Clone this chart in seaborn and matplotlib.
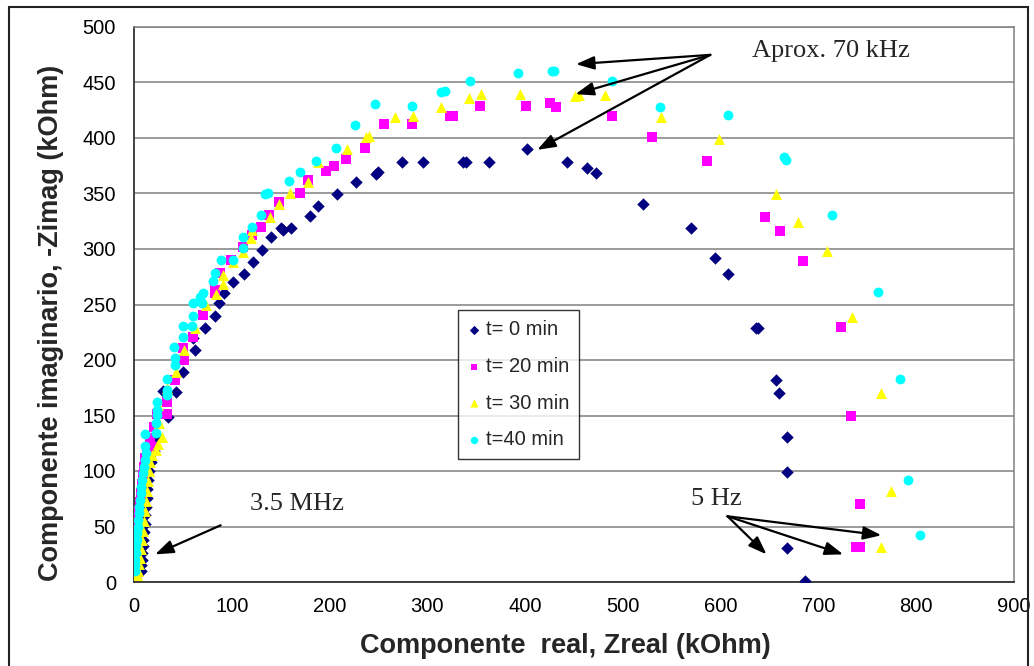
import numpy as np
import pandas as pd
import matplotlib
matplotlib.use("Agg")
import matplotlib.pyplot as plt
from matplotlib.patches import Rectangle
import seaborn as sns

# -------------------- DATA (kOhm) --------------------
labels = ["t= 0 min", "t= 20 min", "t= 30 min", "t=40 min"]

x_t0 = [7, 7.5, 8, 8.5, 9, 9.5, 10, 11, 11.5, 12, 13, 13.5, 14.5, 15.5, 17, 20, 25, 30, 35, 43,
        50, 60.6, 62, 72.5, 82.7, 87, 92, 101, 112, 122, 131, 140.6, 150, 152.5, 160.4, 180, 188.6,
        208, 227, 247, 250, 274, 295.5, 336.4, 340, 363, 402, 443, 463, 472, 521, 570, 594, 608,
        636, 638, 657, 660, 668, 668, 668, 686]
y_t0 = [10, 15, 20, 26, 32, 38, 45, 52, 60, 68, 76, 84, 92, 100, 108, 118, 130, 172, 149, 171,
        189, 219.5, 209, 229, 239.6, 251, 260, 270.5, 277.5, 288.5, 299, 310.5, 319, 317, 319,
        329.8, 338.8, 349.6, 360.7, 367.6, 369.4, 378.5, 378.5, 378.5, 378.5, 378.5, 390, 378.5,
        373.3, 368.3, 340.3, 319, 292.2, 277.5, 229, 229, 181.9, 169.9, 130.2, 99.2, 31, 0.6]

x_t20 = [0.5, 1, 1.5, 2, 0, 2.5, 3, 4, 5, 6, 7, 8, 9, 10, 11, 13, 16, 20.7, 20, 23.2,
         33.4, 33.4, 41.9, 51, 50.4, 60, 70.8, 82.7, 82.7, 87.8, 99, 111, 120.2, 129.4, 137.6,
         147.8, 170.2, 178.4, 196.8, 205, 217.2, 236, 256, 284.6, 323.5, 326, 354, 401, 425.6,
         431.7, 488.6, 529.8, 585.9, 645, 660.5, 684.4, 722.8, 733, 742.2, 738, 742]
y_t20 = [12, 18, 25, 32, 50, 40, 48, 56, 64, 72, 80, 88, 96, 104, 112, 120, 130, 121.7, 140, 151.8,
         151.2, 162.3, 181.9, 200, 210.5, 221, 240.5, 260, 263, 278, 290, 301.5, 312.6, 320, 330.7,
         342.6, 350.8, 362.2, 370.6, 374.8, 381.4, 391.4, 412.4, 412.4, 420, 420, 429, 429, 431.9,
         428.3, 420.2, 401.3, 379.6, 329, 316.5, 289.5, 230, 149.7, 70.7, 31.6, 31.6]

x_t30 = [3, 4, 5, 6, 7, 8, 9, 10, 11, 12, 13, 14, 15, 16, 18, 23, 25, 28.3, 25.8, 24.8,
         34, 42.9, 51, 62.3, 73.5, 83.8, 91.2, 91.2, 100.8, 111.6, 119.8, 121, 139, 147.8, 160,
         178.4, 188.3, 217.8, 237, 240.4, 266.6, 285.3, 314.3, 342.5, 355, 395, 451.5, 455.5,
         481.8, 539, 597.8, 657, 679.5, 708.3, 734.7, 763.7, 774.3, 763.7]
y_t30 = [6, 10, 16, 22, 30, 38, 46, 55, 64, 73, 82, 91, 100, 108, 114, 119, 124, 130.8, 142.8, 159.3,
         174.4, 189.4, 209, 228.5, 249.5, 259.4, 268.4, 276.5, 288.5, 297.6, 310, 317, 329, 340.6,
         350, 360.7, 378.5, 390, 400.7, 401.9, 418.7, 420, 428.3, 436.4, 439.8, 439.8, 438, 438.8,
         438.8, 419.3, 398.9, 349.6, 324.6, 298.5, 239, 169.9, 82, 31.6]

x_t40 = [1, 1, 1.5, 2, 2.5, 3, 3.5, 4, 4.5, 5, 5.5, 6, 7, 7.5, 8, 9, 10, 11, 12, 11.2,
         11.2, 22.5, 22.5, 23.2, 23.2, 23.2, 33.4, 33.4, 33.4, 41.9, 41.9, 40.9, 50.4, 50.4, 58.9,
         60.6, 60.6, 70, 68, 70.8, 81, 82.7, 88.5, 100.8, 111.6, 111.6, 120.2, 129.7, 133.8, 137.2,
         158.3, 170.2, 186.6, 207, 225.7, 246.2, 284.6, 314.3, 317.7, 344, 393, 427.7, 430, 488.6,
         538, 607.4, 665, 666.8, 713.7, 761.3, 783, 791.3, 804]
y_t40 = [10, 15, 20, 26, 32, 38, 44, 50, 56, 62, 68, 74, 80, 86, 92, 98, 104, 110, 116, 122.4,
         133.2, 133.8, 142.8, 150.3, 154.8, 162.3, 168.4, 172.9, 182.5, 195.4, 201.4, 212, 221,
         230.6, 230.6, 239.6, 251.6, 251.6, 257, 260.6, 271.4, 278.6, 290, 290, 300.6, 311, 320,
         330.7, 349.3, 350.8, 361.6, 369.7, 379.3, 391.4, 411.5, 430.5, 429, 441, 442.7, 451.5,
         459, 460.8, 460.5, 451.8, 428.3, 421, 383.2, 380.3, 331, 261.5, 183, 91.7, 42]

colors = ["#000080", "#FF00FF", "#FFFF00", "#00FFFF"]
markers = ["D", "s", "^", "o"]
sizes = [40, 42, 62, 50]

df = pd.concat([
    pd.DataFrame({"Zreal": x, "Zimag": y, "serie": lab})
    for x, y, lab in zip([x_t0, x_t20, x_t30, x_t40], [y_t0, y_t20, y_t30, y_t40], labels)
], ignore_index=True)

# -------------------- STYLE --------------------
sns.set_style("white")
plt.rcParams["font.family"] = ["Liberation Sans", "DejaVu Sans"]

fig = plt.figure(figsize=(10.34, 6.66), dpi=100)
ax = fig.add_axes([134 / 1034, 1 - 582 / 666, 880 / 1034, 555 / 666])

# one call per series so cyan ends up on top, like the original
for lab, col, mk, sz in zip(labels, colors, markers, sizes):
    sns.scatterplot(data=df[df["serie"] == lab], x="Zreal", y="Zimag", color=col,
                    marker=mk, s=sz, linewidth=0, label=lab, ax=ax, zorder=3)

ax.set_xlim(0, 900)
ax.set_ylim(0, 500)
ax.set_xticks(np.arange(0, 901, 100))
ax.set_yticks(np.arange(0, 501, 50))
ax.yaxis.grid(True, color="#808080", lw=1.1)
ax.set_axisbelow(True)
for s in ["top", "right"]:
    ax.spines[s].set_color("#808080")
    ax.spines[s].set_linewidth(1.1)
for s in ["left", "bottom"]:
    ax.spines[s].set_color("#333333")
    ax.spines[s].set_linewidth(1.3)
ax.tick_params(axis="both", direction="out", length=5, width=1.1, color="#333333",
               labelsize=14.5, labelcolor="black")
ax.tick_params(axis="y", pad=8)
ax.tick_params(axis="x", pad=6)

ax.set_xlabel("Componente  real, Zreal (kOhm)", fontsize=19.5, fontweight="bold")
ax.set_ylabel("Componente imaginario, -Zimag (kOhm)", fontsize=19.5, fontweight="bold")
ax.xaxis.set_label_coords(0.49, -0.092)
ax.yaxis.set_label_coords(-0.079, 0.467)

# -------------------- LEGEND --------------------
handles, labs = ax.get_legend_handles_labels()
leg = ax.legend(handles, labs, loc="upper left", bbox_to_anchor=(0.368, 0.49), borderaxespad=0,
                fontsize=14.5, frameon=True, fancybox=False, edgecolor="black",
                handletextpad=0.3, labelspacing=0.88, handlelength=0.6, borderpad=0.5,
                markerscale=0.75)
leg.get_frame().set_linewidth(1.0)

# -------------------- ANNOTATIONS --------------------
serif = ["Liberation Serif", "DejaVu Serif"]
arrow = dict(arrowstyle="-|>,head_length=0.55,head_width=0.2", color="black", lw=1.6,
             shrinkA=0, shrinkB=0, mutation_scale=20)

ax.text(632, 478, "Aprox. 70 kHz", family=serif, fontsize=19, ha="left", va="center")
for tip in [(452, 466.5), (451.5, 439.5), (412.4, 389.3)]:
    ax.annotate("", xy=tip, xytext=(589.4, 474.9), arrowprops=arrow)

ax.text(118.5, 70.7, "3.5 MHz", family=serif, fontsize=19, ha="left", va="center")
ax.annotate("", xy=(21.6, 24.9), xytext=(88.6, 51.1), arrowprops=arrow)

ax.text(569.7, 75.2, "5 Hz", family=serif, fontsize=19, ha="left", va="center")
for tip in [(646.9, 24.9), (725.3, 24.9), (764.4, 42.1)]:
    ax.annotate("", xy=tip, xytext=(607, 59.2), arrowprops=arrow)

# outer frame of the chart (bottom edge is cut off in the original)
fig.patches.append(Rectangle((9 / 1034, -0.05), 1019 / 1034, 1.05 - 7 / 666,
                             transform=fig.transFigure, fill=False, edgecolor="#222222",
                             lw=1.5, zorder=10))

fig.savefig("out.png", dpi=100)
